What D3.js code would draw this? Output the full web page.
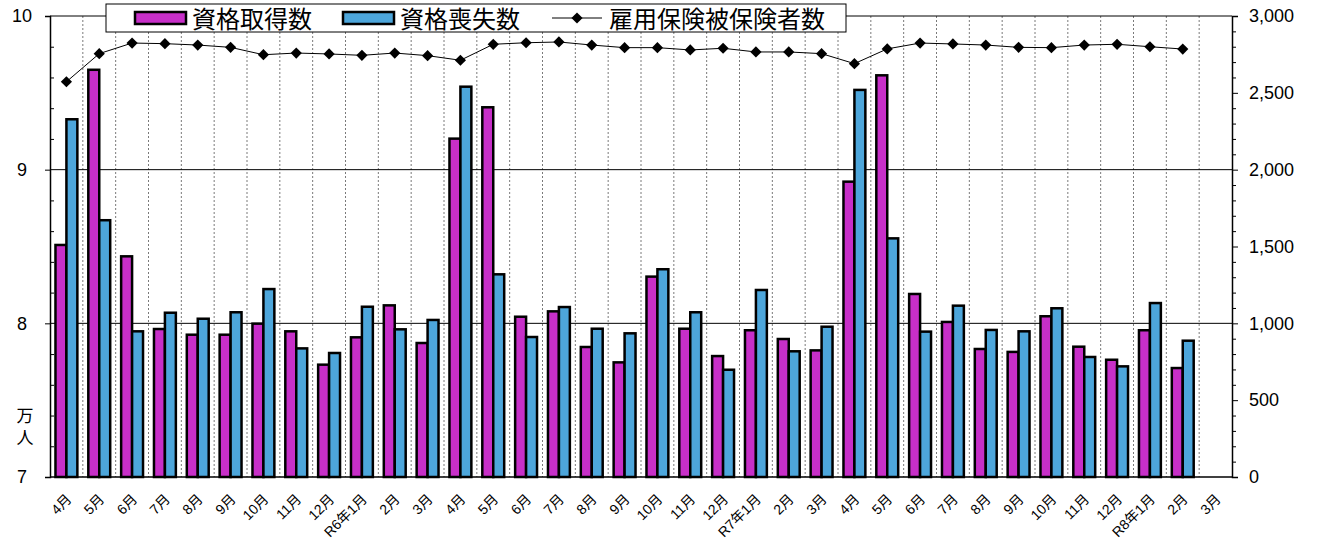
<!DOCTYPE html>
<html lang="ja">
<head>
<meta charset="utf-8">
<script src="https://cdn.jsdelivr.net/npm/d3@7"></script>
<style>
  body { margin: 0; background: #fff; }
  svg { display: block; }
  text { font-family: "Liberation Sans", "Noto Sans CJK JP", sans-serif; }
</style>
</head>
<body>
<div id="graf"></div>
<script>
// Categorías (meses)
const months = [
  '4月', '5月', '6月', '7月', '8月', '9月', '10月', '11月', '12月', 'R6年1月', '2月', '3月',
  '4月', '5月', '6月', '7月', '8月', '9月', '10月', '11月', '12月', 'R7年1月', '2月', '3月',
  '4月', '5月', '6月', '7月', '8月', '9月', '10月', '11月', '12月', 'R8年1月', '2月', '3月'
]

// 資格取得数 (人, eje derecho)
const acquired = [
  1510, 2650, 1436, 963, 926, 926, 998, 948, 731, 909, 1117, 872,
  2202, 2406, 1043, 1078, 846, 746, 1304, 965, 787, 955, 898, 824,
  1922, 2614, 1191, 1009, 833, 814, 1046, 848, 763, 955, 709, null
]

// 資格喪失数 (人, eje derecho)
const lost = [
  2328, 1671, 948, 1069, 1030, 1072, 1223, 837, 807, 1108, 961, 1022,
  2540, 1319, 911, 1106, 965, 935, 1352, 1072, 698, 1217, 818, 978,
  2519, 1553, 946, 1115, 957, 948, 1098, 781, 720, 1132, 887, null
]

// 雇用保険被保険者数 (万人, eje izquierdo)
const insured = [
  9.572, 9.755, 9.824, 9.820, 9.811, 9.796, 9.748, 9.759, 9.753, 9.744, 9.759, 9.742,
  9.712, 9.816, 9.826, 9.831, 9.811, 9.794, 9.794, 9.779, 9.790, 9.766, 9.766, 9.755,
  9.690, 9.786, 9.824, 9.818, 9.811, 9.796, 9.794, 9.811, 9.816, 9.800, 9.785, null
]

const leftTicks = [7, 8, 9, 10]
const rightTicks = [0, 500, 1000, 1500, 2000, 2500, 3000]

const seriesNames = ['資格取得数', '資格喪失数', '雇用保険被保険者数']
const colors = ['#C72FC8', '#4DA6DB']

const draw = () => {
  const anchoTotal = 1317
  const altoTotal = 544
  const margins = { top: 16, right: 85, bottom: 67, left: 50 }
  const ancho = anchoTotal - margins.left - margins.right
  const alto = altoTotal - margins.top - margins.bottom

  const svg = d3.select('#graf')
    .append('svg')
    .attr('width', anchoTotal)
    .attr('height', altoTotal)

  const g = svg.append('g')
    .attr('transform', `translate(${margins.left}, ${margins.top})`)

  // Escaladores
  const x = d3.scaleBand()
    .domain(d3.range(months.length))
    .range([0, ancho])
    .padding(0)

  const xSub = d3.scaleBand()
    .domain([0, 1])
    .range([0, x.bandwidth()])
    .paddingInner(0)
    .paddingOuter(0.5)

  const yL = d3.scaleLinear().domain([7, 10]).range([alto, 0])
  const yR = d3.scaleLinear().domain([0, 3000]).range([alto, 0])

  // Rejilla vertical punteada
  g.append('g')
    .selectAll('line')
    .data(d3.range(1, months.length))
    .join('line')
    .attr('x1', (i) => x(i))
    .attr('x2', (i) => x(i))
    .attr('y1', 0)
    .attr('y2', alto)
    .attr('stroke', '#7a7a7a')
    .attr('stroke-width', 1)
    .attr('stroke-dasharray', '2,2')

  // Rejilla horizontal
  g.append('g')
    .selectAll('line')
    .data([8, 9, 10])
    .join('line')
    .attr('x1', 0)
    .attr('x2', ancho)
    .attr('y1', (d) => yL(d))
    .attr('y2', (d) => yL(d))
    .attr('stroke', '#000')
    .attr('stroke-width', 1)

  // Barras
  const bars = [acquired, lost]
  bars.forEach((serie, s) => {
    g.append('g')
      .selectAll('rect')
      .data(serie.map((v, i) => ({ i, v })).filter((d) => d.v !== null))
      .join('rect')
      .attr('x', (d) => x(d.i) + xSub(s))
      .attr('width', xSub.bandwidth())
      .attr('y', (d) => yR(d.v))
      .attr('height', (d) => alto - yR(d.v))
      .attr('fill', colors[s])
      .attr('stroke', '#000')
      .attr('stroke-width', 2.5)
  })

  // Línea con marcadores
  const points = insured.map((v, i) => ({ i, v })).filter((d) => d.v !== null)
  const line = d3.line()
    .x((d) => x(d.i) + x.bandwidth() / 2)
    .y((d) => yL(d.v))

  g.append('path')
    .datum(points)
    .attr('d', line)
    .attr('fill', 'none')
    .attr('stroke', '#000')
    .attr('stroke-width', 1)

  const diamond = d3.symbol().type(d3.symbolDiamond2).size(80)
  g.append('g')
    .selectAll('path')
    .data(points)
    .join('path')
    .attr('d', diamond)
    .attr('transform', (d) => `translate(${x(d.i) + x.bandwidth() / 2}, ${yL(d.v)})`)
    .attr('fill', '#000')

  // Eje X
  g.append('line')
    .attr('x1', 0).attr('x2', ancho)
    .attr('y1', alto).attr('y2', alto)
    .attr('stroke', '#000')
    .attr('stroke-width', 1.5)

  g.append('g')
    .selectAll('text')
    .data(months)
    .join('text')
    .attr('transform', (d, i) => `translate(${x(i) + x.bandwidth() / 2 + 6}, ${alto + 23}) rotate(-45)`)
    .attr('text-anchor', 'end')
    .attr('font-size', 14)
    .attr('fill', '#000')
    .text((d) => d)

  // Eje izquierdo
  const leftAxis = g.append('g')
    .call(d3.axisLeft(yL).tickValues(leftTicks).tickSize(5).tickFormat(d3.format('d')))
  leftAxis.select('.domain').attr('stroke', '#000').attr('stroke-width', 1.5)
  leftAxis.selectAll('.tick text')
    .attr('x', -28)
    .attr('text-anchor', 'middle')
    .attr('font-size', 18)
    .attr('font-family', '"Liberation Sans", sans-serif')

  g.append('g')
    .call(d3.axisLeft(yL).tickValues(d3.range(7.2, 10, 0.2).filter((v) => Math.abs(v - Math.round(v)) > 0.01)).tickSize(-4).tickFormat(''))
    .call((a) => a.select('.domain').remove())

  // Eje derecho
  const rightAxis = g.append('g')
    .attr('transform', `translate(${ancho}, 0)`)
    .call(d3.axisRight(yR).tickValues(rightTicks).tickSize(6).tickPadding(11).tickFormat(d3.format(',')))
  rightAxis.select('.domain').attr('stroke', '#000').attr('stroke-width', 1.5)
  rightAxis.selectAll('.tick text')
    .attr('font-size', 18)
    .attr('font-family', '"Liberation Sans", sans-serif')

  g.append('g')
    .attr('transform', `translate(${ancho}, 0)`)
    .call(d3.axisRight(yR).tickValues(d3.range(100, 3000, 100).filter((v) => v % 500 !== 0)).tickSize(4).tickFormat(''))
    .call((a) => a.select('.domain').remove())

  // Unidad 万人
  svg.append('g')
    .selectAll('text')
    .data(['万', '人'])
    .join('text')
    .attr('x', 25)
    .attr('y', (d, i) => 422 + i * 22)
    .attr('text-anchor', 'middle')
    .attr('font-size', 17)
    .attr('font-family', '"Noto Sans CJK JP", sans-serif')
    .text((d) => d)

  // Leyenda
  const legend = svg.append('g')
  legend.append('rect')
    .attr('x', 106).attr('y', 4)
    .attr('width', 740).attr('height', 28)
    .attr('fill', '#fff')
    .attr('stroke', '#000')
    .attr('stroke-width', 1)

  const items = [
    { name: seriesNames[0], x: 135, type: 'bar', color: colors[0] },
    { name: seriesNames[1], x: 343, type: 'bar', color: colors[1] },
    { name: seriesNames[2], x: 552, type: 'line' }
  ]

  items.forEach((it) => {
    if (it.type === 'bar') {
      legend.append('rect')
        .attr('x', it.x).attr('y', 12)
        .attr('width', 51).attr('height', 12)
        .attr('fill', it.color)
        .attr('stroke', '#000')
        .attr('stroke-width', 2.5)
    } else {
      legend.append('line')
        .attr('x1', it.x).attr('x2', it.x + 50)
        .attr('y1', 18).attr('y2', 18)
        .attr('stroke', '#000')
        .attr('stroke-width', 1)
      legend.append('path')
        .attr('d', diamond)
        .attr('transform', `translate(${it.x + 25}, 18)`)
        .attr('fill', '#000')
    }
    legend.append('text')
      .attr('x', it.x + 57)
      .attr('y', 19)
      .attr('dominant-baseline', 'central')
      .attr('font-size', 24)
      .attr('font-family', '"Noto Sans CJK JP", sans-serif')
      .attr('fill', '#000')
      .text(it.name)
  })
}

draw()
</script>
</body>
</html>
